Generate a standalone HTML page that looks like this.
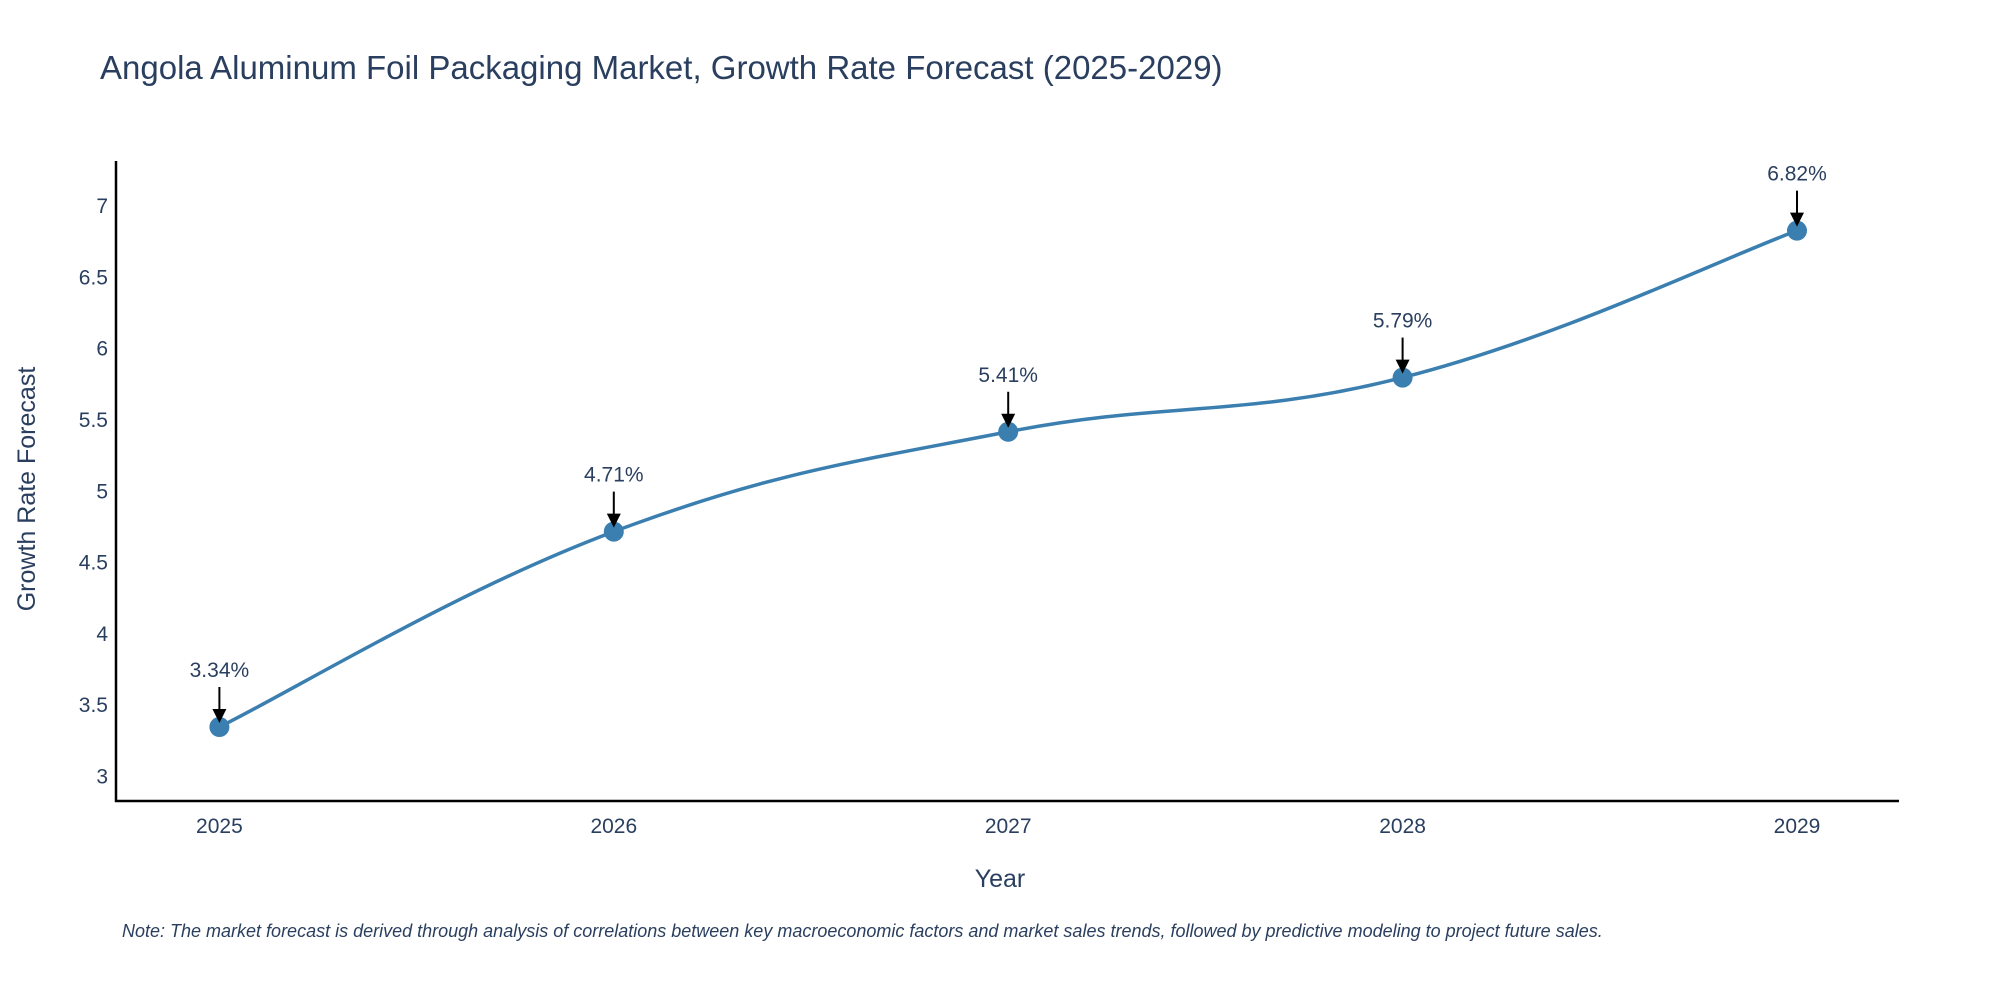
<!DOCTYPE html>
<html><head><meta charset="utf-8"><style>
html,body{margin:0;padding:0;background:#fff;}
svg{display:block;font-family:"Liberation Sans",sans-serif;}
</style></head><body>
<svg id="chart" width="2000" height="1000" viewBox="0 0 2000 1000">
<text x="100" y="79" font-size="33" fill="#2a3f5f">Angola Aluminum Foil Packaging Market, Growth Rate Forecast (2025-2029)</text>
<g id="yticks"></g>
<g id="xticks"></g>
<line x1="116" y1="161" x2="116" y2="802" stroke="#000" stroke-width="2.5"/>
<line x1="115" y1="801" x2="1899" y2="801" stroke="#000" stroke-width="2.5"/>
<text x="1000" y="887" font-size="25" fill="#2a3f5f" text-anchor="middle">Year</text>
<text transform="translate(35,489) rotate(-90)" font-size="25" fill="#2a3f5f" text-anchor="middle">Growth Rate Forecast</text>
<path id="line" fill="none" stroke="#3b7fb0" stroke-width="3.5"/>
<g id="points"></g>
<g id="annos"></g>
<text x="122" y="937" font-size="18" font-style="italic" fill="#2a3f5f">Note: The market forecast is derived through analysis of correlations between key macroeconomic factors and market sales trends, followed by predictive modeling to project future sales.</text>
</svg>
<script>
const years = [2025, 2026, 2027, 2028, 2029];
const values = [3.34, 4.71, 5.41, 5.79, 6.82];
const labels = ["3.34%", "4.71%", "5.41%", "5.79%", "6.82%"];
const yTickVals = [3, 3.5, 4, 4.5, 5, 5.5, 6, 6.5, 7];
const yTickLabels = ["3", "3.5", "4", "4.5", "5", "5.5", "6", "6.5", "7"];

const NS = "http://www.w3.org/2000/svg";
function xs(v){ return 219.4 + (v - 2025) * (1797 - 219.4) / 4; }
function ys(v){ return 775.5 - (v - 3) * (775.5 - 205) / 4; }
function mk(tag, attrs, parent){ const e=document.createElementNS(NS,tag); for(const k in attrs) e.setAttribute(k,attrs[k]); parent.appendChild(e); return e; }

const yt=document.getElementById('yticks');
yTickVals.forEach((v,i)=>{
  const t=mk('text',{x:108,y:ys(v)+8,'font-size':21,fill:'#2a3f5f','text-anchor':'end'},yt);
  
  
  t.textContent=yTickLabels[i];
});
const xt=document.getElementById('xticks');
years.forEach(y=>{
  const t=mk('text',{x:xs(y),y:833,'font-size':21,fill:'#2a3f5f','text-anchor':'middle'},xt);
  
  
  t.textContent=String(y);
});

const pts=years.map((y,i)=>[xs(y),ys(values[i])]);
let d='M'+pts[0][0]+','+pts[0][1];
for(let i=0;i<pts.length-1;i++){
  const p0=pts[Math.max(i-1,0)],p1=pts[i],p2=pts[i+1],p3=pts[Math.min(i+2,pts.length-1)];
  const t=0.2;
  const c1=[p1[0]+(p2[0]-p0[0])*t,p1[1]+(p2[1]-p0[1])*t];
  const c2=[p2[0]-(p3[0]-p1[0])*t,p2[1]-(p3[1]-p1[1])*t];
  d+=' C'+c1[0]+','+c1[1]+' '+c2[0]+','+c2[1]+' '+p2[0]+','+p2[1];
}
document.getElementById('line').setAttribute('d',d);

const pg=document.getElementById('points'), ag=document.getElementById('annos');
pts.forEach((p,i)=>{
  const c=mk('circle',{cx:p[0],cy:p[1],r:10,fill:'#3b7fb0'},pg);
  
  
  const l=mk('line',{x1:p[0],y1:p[1]-40,x2:p[0],y2:p[1]-16,stroke:'#000','stroke-width':2},ag);
  
  
  const h=mk('polygon',{points:(p[0]-7)+','+(p[1]-18)+' '+(p[0]+7)+','+(p[1]-18)+' '+p[0]+','+(p[1]-4),fill:'#000'},ag);
  
  
  const t=mk('text',{x:p[0],y:p[1]-50,'font-size':21,fill:'#2a3f5f','text-anchor':'middle'},ag);
  
  
  t.textContent=labels[i];
});
</script>
</body></html>
